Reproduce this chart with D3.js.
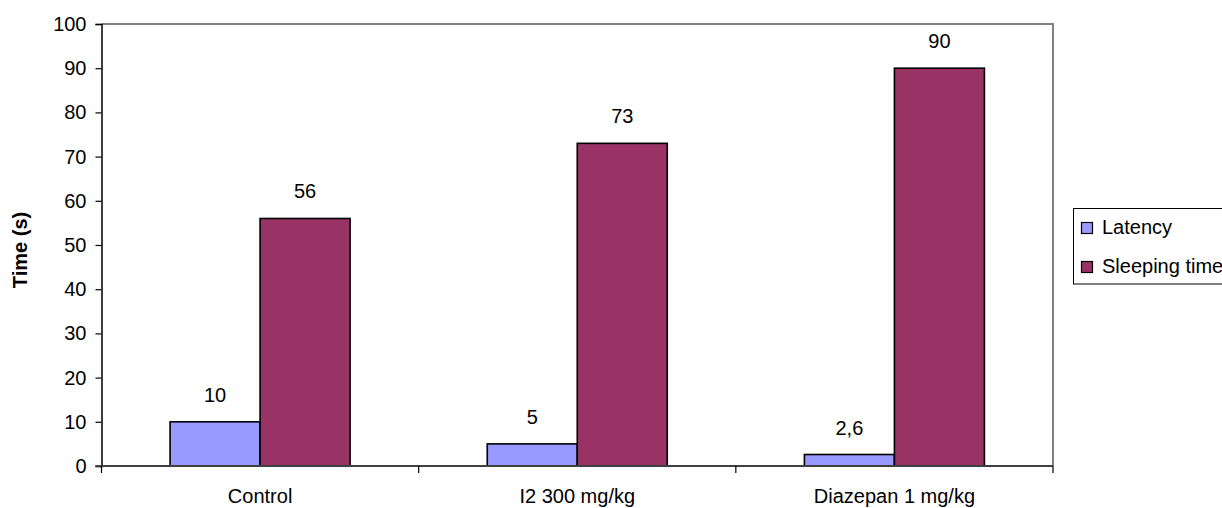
<!DOCTYPE html>
<html><head><meta charset="utf-8">
<script src="https://cdn.jsdelivr.net/npm/d3@7"></script>
<style>body{margin:0;background:#fff}svg{display:block}text{font-family:"Liberation Sans",Arial,sans-serif}</style>
</head><body>
<svg id="c" width="1222" height="508"></svg>
<script>
const categories = ["Control", "I2 300 mg/kg", "Diazepan 1 mg/kg"];
const seriesNames = ["Latency", "Sleeping time"];
const latency = [10, 5, 2.6];
const sleeping = [56, 73, 90];
const valueLabels = [["10","5","2,6"],["56","73","90"]];
const yTicks = [0,10,20,30,40,50,60,70,80,90,100];
const colors = ["#9999FF", "#993366"];

const svg = d3.select("#c");
const L = 101.5, R = 1053, T = 24, B = 466;
const FS = 20;
const x = d3.scaleBand().domain(categories).range([L, R]).paddingInner(0).paddingOuter(0);
const y = d3.scaleLinear().domain([0, 100]).range([B, T]);
const xs = d3.scaleBand().domain(seriesNames).range([0, x.bandwidth()]).paddingInner(0).paddingOuter(0.762);

// frame: top & right grey
svg.append("path").attr("d", `M${L},${T}H${R}V${B}`).attr("fill","none").attr("stroke","#808080").attr("stroke-width",2);

const series = [latency, sleeping];
series.forEach((vals, si) => {
  svg.append("g").selectAll("rect").data(vals).join("rect")
    .attr("x", (d,i) => x(categories[i]) + xs(seriesNames[si]))
    .attr("width", xs.bandwidth())
    .attr("y", d => y(d))
    .attr("height", d => B - y(d))
    .attr("fill", colors[si]).attr("stroke","#000").attr("stroke-width",1.6);
  svg.append("g").selectAll("text").data(vals).join("text")
    .attr("x", (d,i) => x(categories[i]) + xs(seriesNames[si]) + xs.bandwidth()/2)
    .attr("y", d => y(d) - 20)
    .attr("text-anchor","middle").attr("font-size",FS).attr("fill","#000")
    .text((d,i) => valueLabels[si][i]);
});

// y axis
const ya = svg.append("g").attr("transform", `translate(${L},0)`)
  .call(d3.axisLeft(y).tickValues(yTicks).tickSize(6).tickPadding(9));
ya.select(".domain").attr("stroke","#000").attr("stroke-width",1.5);
ya.selectAll(".tick line").attr("stroke","#000").attr("stroke-width",1.2);
ya.selectAll(".tick text").attr("font-size",FS).attr("fill","#000").attr("font-family","Liberation Sans, Arial, sans-serif");

// x axis
const xa = svg.append("g").attr("transform", `translate(0,${B})`)
  .call(d3.axisBottom(x).tickSize(0).tickPadding(23));
xa.select(".domain").attr("stroke","#404040").attr("stroke-width",2).attr("d", `M${L-6},0H${R}`);
xa.selectAll(".tick text").attr("font-size",FS).attr("fill","#000").attr("font-family","Liberation Sans, Arial, sans-serif");
// category boundary ticks
const bounds = categories.map(c => x(c)).concat([R]);
svg.append("g").selectAll("line").data(bounds).join("line")
  .attr("x1", d => d).attr("x2", d => d).attr("y1", B).attr("y2", B + 7)
  .attr("stroke","#000").attr("stroke-width",1.2);

// y label
svg.append("text").attr("transform", `translate(27,${250}) rotate(-90)`)
  .attr("text-anchor","middle").attr("font-size",FS).attr("font-weight","bold").text("Time (s)");

// legend
const lg = svg.append("g");
lg.append("rect").attr("x",1073.5).attr("y",208.5).attr("width",160).attr("height",75.5)
  .attr("fill","#fff").attr("stroke","#000").attr("stroke-width",1);
seriesNames.forEach((n,i) => {
  const base = 234 + i*39;
  lg.append("rect").attr("x",1081.5).attr("y",base-11.5).attr("width",11).attr("height",11)
    .attr("fill",colors[i]).attr("stroke","#000").attr("stroke-width",1.2);
  lg.append("text").attr("x",1102).attr("y",base).attr("font-size",20).text(n);
});
</script>
</body></html>
